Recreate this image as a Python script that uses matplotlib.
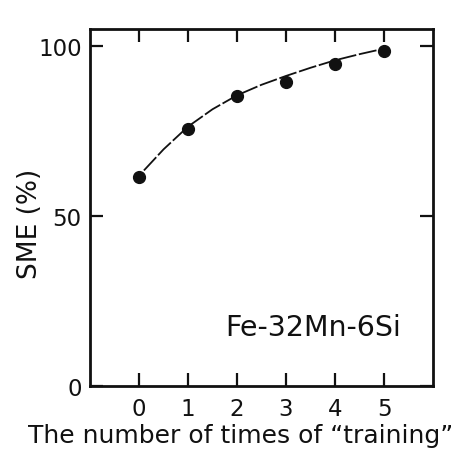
import matplotlib
matplotlib.use("Agg")
import matplotlib.pyplot as plt

# data
training = [0, 1, 2, 3, 4, 5]
sme = [61.5, 75.6, 85.4, 89.3, 94.7, 98.6]
curve_x = [0.1, 0.5, 1.0, 1.5, 2.0, 2.5, 3.0, 3.5, 4.0, 4.5, 4.9]
curve_y = [63.4, 69.6, 76.3, 81.4, 85.5, 88.6, 91.2, 93.6, 95.8, 97.6, 98.9]
xticks = [0, 1, 2, 3, 4, 5]
yticks = [0, 50, 100]

plt.rcParams['font.family'] = ['DejaVu Sans']
ink = '#111111'

fig = plt.figure(figsize=(4.6, 4.52), dpi=100)
ax = fig.add_axes([0.1957, 0.1438, 0.7456, 0.7898])

ax.plot(curve_x, curve_y, color=ink, lw=1.3, dashes=(10, 1.5))
ax.plot(training, sme, 'o', color=ink, ms=8.5)

ax.set_xlim(-1, 6)
ax.set_ylim(0, 105)
ax.set_xticks(xticks)
ax.set_yticks(yticks)
ax.tick_params(direction='in', length=9.5, width=1.6, top=True, right=True,
               labelsize=16.5, colors=ink)
ax.tick_params(axis='x', pad=8)
ax.tick_params(axis='y', pad=6)
for s in ax.spines.values():
    s.set_linewidth(2)
    s.set_color(ink)

ax.set_xlabel('The number of times of \u201ctraining\u201d', fontsize=18, color=ink)
ax.xaxis.set_label_coords(0.44, -0.105)
ax.set_ylabel('SME (%)', fontsize=19, color=ink)
ax.yaxis.set_label_coords(-0.137, 0.457)
ax.text(1.76, 17.4, 'Fe-32Mn-6Si', fontsize=20.5, color=ink, va='center', ha='left')

fig.savefig('out.png', dpi=100)
